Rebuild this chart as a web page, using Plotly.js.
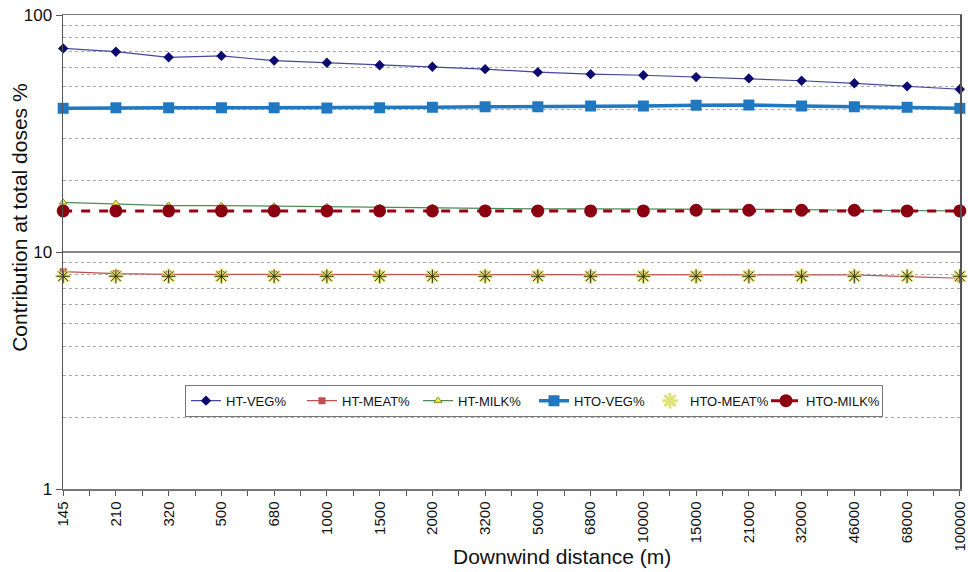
<!DOCTYPE html>
<html><head><meta charset="utf-8">
<script src="https://cdn.plot.ly/plotly-3.0.1.min.js"></script>
<style>html,body{margin:0;padding:0;background:#fff}#chart{width:968px;height:572px}</style>
</head><body><div id="chart"></div>
<script>
const categories = ["145","210","320","500","680","1000","1500","2000","3200","5000","6800","10000","15000","21000","32000","46000","68000","100000"];
const htVeg   = [72.3,70.0,66.3,67.2,64.2,62.9,61.4,60.5,59.1,57.4,56.3,55.7,54.7,54.0,52.8,51.5,50.0,48.6];
const htMeat  = [8.26,8.1,8.05,8.05,8.05,8.0,8.0,8.0,8.0,8.0,8.0,8.0,8.0,8.0,8.0,8.0,7.87,7.75];
const htMilk  = [16.2,16.0,15.7,15.7,15.6,15.5,15.4,15.4,15.3,15.2,15.2,15.2,15.1,15.1,15.1,15.0,15.0,14.9];
const htoVeg  = [40.4,40.6,40.6,40.6,40.6,40.5,40.6,40.8,41.0,41.0,41.3,41.3,41.6,41.7,41.3,41.0,40.8,40.4];
const htoMeat = [7.9,7.9,7.9,7.9,7.9,7.9,7.9,7.9,7.9,7.9,7.9,7.9,7.9,7.9,7.9,7.9,7.9,7.9];
const htoMilk = [14.9,14.9,14.9,14.9,14.9,14.9,14.9,14.9,14.9,14.9,14.9,14.9,15.0,15.0,15.0,15.0,14.9,14.9];
const yTicks = [1,10,100];
const yMinor = [2,3,4,5,6,7,8,9,20,30,40,50,60,70,80,90];
const xTitle = "Downwind distance (m)";
const yTitle = "Contribution at total doses %";

const xIdx = categories.map((_, i) => i);
const nCat = categories.length;

const traces = [
  {name:"HT-VEG%", y:htVeg, mode:"lines+markers", line:{color:"#4646a0", width:1.2},
   marker:{symbol:"diamond", size:8, color:"#0a0a70"}},
  {name:"HT-MEAT%", y:htMeat, mode:"lines+markers", line:{color:"#c0504d", width:1.2},
   marker:{symbol:"square", size:7, color:"#c0504d"}},
  {name:"HT-MILK%", y:htMilk, mode:"lines+markers", line:{color:"#4f8a5a", width:1.2},
   marker:{symbol:"triangle-up", size:7, color:"#f0f040", line:{color:"#8a8a20", width:1}}},
  {name:"HTO-VEG%", y:htoVeg, mode:"lines+markers", line:{color:"#1f78c0", width:3.5},
   marker:{symbol:"square", size:11, color:"#1f78c0"}},
  {name:"HTO-MEAT%", y:htoMeat, mode:"markers",
   marker:{symbol:"asterisk-open", size:13, color:"#e2e27a", line:{color:"#d8d860", width:3}}},
  {name:"HTO-MILK%", y:htoMilk, mode:"lines+markers", line:{color:"#9a0010", width:3, dash:"dash"},
   marker:{symbol:"circle", size:13, color:"#8b0010"}}
].map(t => Object.assign({x:xIdx, type:"scatter", cliponaxis:false}, t));

traces.push({x:xIdx, y:htoMeat, type:"scatter", mode:"markers", showlegend:false, cliponaxis:false, hoverinfo:"skip",
  marker:{symbol:"asterisk-open", size:11, color:"#333300", line:{color:"#3a3a10", width:1}}});

const layout = {
  width:968, height:572,
  margin:{l:63, r:8, t:15, b:83},
  paper_bgcolor:"#fff", plot_bgcolor:"#fff",
  font:{family:"Liberation Sans, Arial, sans-serif", color:"#111"},
  showlegend:true,
  legend:{orientation:"h", x:0.136, y:0.22, xanchor:"left", yanchor:"top",
    bordercolor:"#777", borderwidth:1, bgcolor:"#fff",
    font:{size:13, family:"Liberation Sans, Arial, sans-serif"},
    entrywidth:71, entrywidthmode:"pixels", traceorder:"normal", tracegroupgap:0},
  xaxis:{range:[-0.003,nCat-1+0.003], tickmode:"array", tickvals:xIdx, ticktext:categories,
    tickangle:-90, tickfont:{size:15}, ticks:"outside", ticklen:5, tickcolor:"#555",
    ticklabeloverflow:"allow",
    showgrid:false, zeroline:false, showline:true, linecolor:"#777", linewidth:1.5, mirror:true,
    minor:{tickvals:xIdx.slice(0,-1).map(i=>i+0.5), ticks:"outside", ticklen:5, tickcolor:"#555", showgrid:false}},
  yaxis:{type:"log", range:[0,2], tickmode:"array", tickvals:yTicks, ticktext:yTicks.map(String),
    tickfont:{size:17}, ticks:"outside", ticklen:6, tickcolor:"#555",
    showgrid:true, gridcolor:"#888", gridwidth:1.5,
    showline:true, linecolor:"#555", linewidth:1.5, mirror:true, zeroline:false,
    minor:{tickvals:yMinor, showgrid:true, gridcolor:"#aaa", griddash:"dot", gridwidth:1, ticks:""}},
  annotations:[
    {text:xTitle, xref:"paper", yref:"paper", x:0.556, y:-0.143, xanchor:"center", yanchor:"middle",
     showarrow:false, font:{size:21}},
    {text:yTitle, xref:"paper", yref:"paper", x:-0.048, y:0.574, xanchor:"center", yanchor:"middle",
     textangle:-90, showarrow:false, font:{size:21}}
  ]
};

Plotly.newPlot("chart", traces, layout, {displayModeBar:false, staticPlot:true});
</script></body></html>
